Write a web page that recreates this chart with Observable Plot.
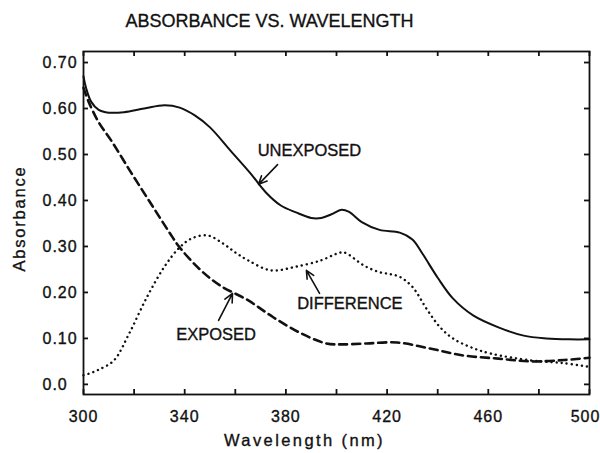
<!DOCTYPE html>
<html>
<head>
<meta charset="utf-8">
<script src="https://cdn.jsdelivr.net/npm/d3@7"></script>
<script src="https://cdn.jsdelivr.net/npm/@observablehq/plot@0.6"></script>
<style>
  html, body { margin: 0; padding: 0; background: #fff; }
  svg { font-family: "Liberation Sans", Arial, sans-serif; }
</style>
</head>
<body>
<div id="chart"></div>
<script>
const titleText = "ABSORBANCE VS. WAVELENGTH";
const xLabelText = "Wavelength (nm)";
const yLabelText = "Absorbance";

const xMinorTicks = [300, 320, 340, 360, 380, 400, 420, 440, 460, 480, 500];
const xLabelTicks = [300, 340, 380, 420, 460];
const xLastLabel = [500];
const yTicks = [0, 0.1, 0.2, 0.3, 0.4, 0.5, 0.6, 0.7];
const yTickLabels = ["0.0", "0.10", "0.20", "0.30", "0.40", "0.50", "0.60", "0.70"];

const unexposedX = [300, 301, 303, 306, 310, 316, 324, 332, 338, 344, 350, 358, 366, 372, 378, 384, 390, 394, 398, 402, 405, 410, 417, 425, 430, 434, 440, 446, 454, 464, 474, 483, 492, 500];
const unexposedY = [0.670, 0.645, 0.615, 0.597, 0.591, 0.592, 0.600, 0.607, 0.602, 0.585, 0.559, 0.509, 0.459, 0.418, 0.389, 0.374, 0.362, 0.362, 0.370, 0.380, 0.375, 0.353, 0.336, 0.330, 0.315, 0.284, 0.232, 0.187, 0.150, 0.124, 0.106, 0.100, 0.098, 0.098];

const exposedX = [300, 302, 306, 311, 319, 327, 334, 338, 346, 354, 365, 375, 386, 396, 402, 412, 424, 437, 450, 464, 477, 490, 500];
const exposedY = [0.645, 0.615, 0.570, 0.530, 0.459, 0.390, 0.330, 0.298, 0.250, 0.215, 0.183, 0.146, 0.111, 0.089, 0.087, 0.089, 0.091, 0.078, 0.063, 0.056, 0.050, 0.053, 0.058];

const differenceX = [300, 302, 306, 312, 318, 325, 332, 338, 343, 349, 355, 360, 365, 374, 384, 394, 400, 403, 411, 417, 421, 425, 430, 436, 441, 446, 453, 461, 477, 490, 500];
const differenceY = [0.020, 0.023, 0.032, 0.052, 0.110, 0.189, 0.256, 0.298, 0.318, 0.324, 0.307, 0.287, 0.270, 0.248, 0.256, 0.270, 0.284, 0.287, 0.258, 0.244, 0.240, 0.234, 0.212, 0.161, 0.124, 0.100, 0.081, 0.067, 0.052, 0.046, 0.038];

// annotations: label position and arrow (tail -> head) in data units
const annoLabels = ["UNEXPOSED", "DIFFERENCE", "EXPOSED"];
const annoLabelX = [389.3, 405.3, 352.4];
const annoLabelY = [0.509, 0.176, 0.109];
const arrowX1 = [376.7, 393.3, 353.4];
const arrowY1 = [0.478, 0.198, 0.139];
const arrowX2 = [369.2, 388.1, 358.9];
const arrowY2 = [0.435, 0.248, 0.198];

const toPts = (xs, ys) => xs.map((x, i) => ({x, y: ys[i]}));
const unexposed = toPts(unexposedX, unexposedY);
const exposed = toPts(exposedX, exposedY);
const difference = toPts(differenceX, differenceY);
const annos = annoLabels.map((t, i) => ({t, x: annoLabelX[i], y: annoLabelY[i], x1: arrowX1[i], y1: arrowY1[i], x2: arrowX2[i], y2: arrowY2[i]}));

const ink = "#111";
const textStyle = {fill: ink, stroke: ink, strokeWidth: 0.35};

const W = 600, H = 453, mL = 83, mR = 11, mT = 51, mB = 59;
const tickLen = 5;
const frameW = W - mL - mR, frameH = H - mT - mB;

const chart = Plot.plot({
  width: W,
  height: H,
  marginLeft: mL,
  marginRight: mR,
  marginTop: mT,
  marginBottom: mB,
  style: {background: "#fff", color: ink},
  x: {domain: [300, 500], axis: null},
  y: {domain: [-0.022, 0.724], axis: null},
  marks: [
    Plot.frame({stroke: ink, strokeWidth: 1.8}),
    // inward ticks on all four sides
    Plot.tickX(xMinorTicks, {x: d => d, insetTop: frameH - tickLen, stroke: ink, strokeWidth: 1.8}),
    Plot.tickX(xMinorTicks, {x: d => d, insetBottom: frameH - tickLen, stroke: ink, strokeWidth: 1.8}),
    Plot.tickY(yTicks, {y: d => d, insetRight: frameW - tickLen, stroke: ink, strokeWidth: 1.8}),
    Plot.tickY(yTicks, {y: d => d, insetLeft: frameW - tickLen, stroke: ink, strokeWidth: 1.8}),
    // tick labels
    Plot.text(xLabelTicks, {x: d => d, frameAnchor: "bottom", dy: 22.5, text: d => String(d), fontSize: 16, lineAnchor: "middle", ...textStyle}),
    Plot.text(xLastLabel, {x: d => d, frameAnchor: "bottom", dx: -4, dy: 22.5, text: d => String(d), fontSize: 16, lineAnchor: "middle", ...textStyle}),
    Plot.text(yTicks, {y: d => d, frameAnchor: "left", dx: -41, textAnchor: "start", text: (d, i) => yTickLabels[i], fontSize: 16, lineAnchor: "middle", ...textStyle}),
    // axis titles
    Plot.text([xLabelText], {frameAnchor: "bottom", textAnchor: "middle", dx: -32, dy: 46, text: d => d, fontSize: 16.5, lineAnchor: "middle", ...textStyle}),
    Plot.text([yLabelText], {frameAnchor: "left", textAnchor: "middle", dx: -64, dy: -4.5, rotate: -90, text: d => d, fontSize: 16.5, lineAnchor: "middle", ...textStyle}),
    Plot.text([titleText], {frameAnchor: "top", textAnchor: "middle", dx: -67, dy: -30.5, text: d => d, fontSize: 18, lineAnchor: "middle", ...textStyle}),
    // curves
    Plot.line(unexposed, {x: "x", y: "y", curve: "catmull-rom", stroke: ink, strokeWidth: 2}),
    Plot.line(exposed, {x: "x", y: "y", curve: "catmull-rom", stroke: ink, strokeWidth: 2.6, strokeDasharray: "8,5"}),
    Plot.line(difference, {x: "x", y: "y", curve: "catmull-rom", stroke: ink, strokeWidth: 2.4, strokeDasharray: "0.1,5", strokeLinecap: "round"}),
    // annotations
    Plot.arrow(annos, {x1: "x1", y1: "y1", x2: "x2", y2: "y2", stroke: ink, strokeWidth: 1.6, headLength: 9, headAngle: 50}),
    Plot.text(annos, {x: "x", y: "y", text: "t", fontSize: 16.5, lineAnchor: "middle", ...textStyle})
  ]
});
document.getElementById("chart").appendChild(chart);

// widen letter spacing to match the reference's wide lettering
const spacing = new Map([
  [xLabelText, "2.4px"],
  [yLabelText, "1.8px"]
]);
d3.select(chart).selectAll("text").each(function () {
  const t = this.textContent;
  if (spacing.has(t)) this.style.letterSpacing = spacing.get(t);
  else if (/^[0-9.]+$/.test(t)) this.style.letterSpacing = "1px";
});
</script>
</body>
</html>
